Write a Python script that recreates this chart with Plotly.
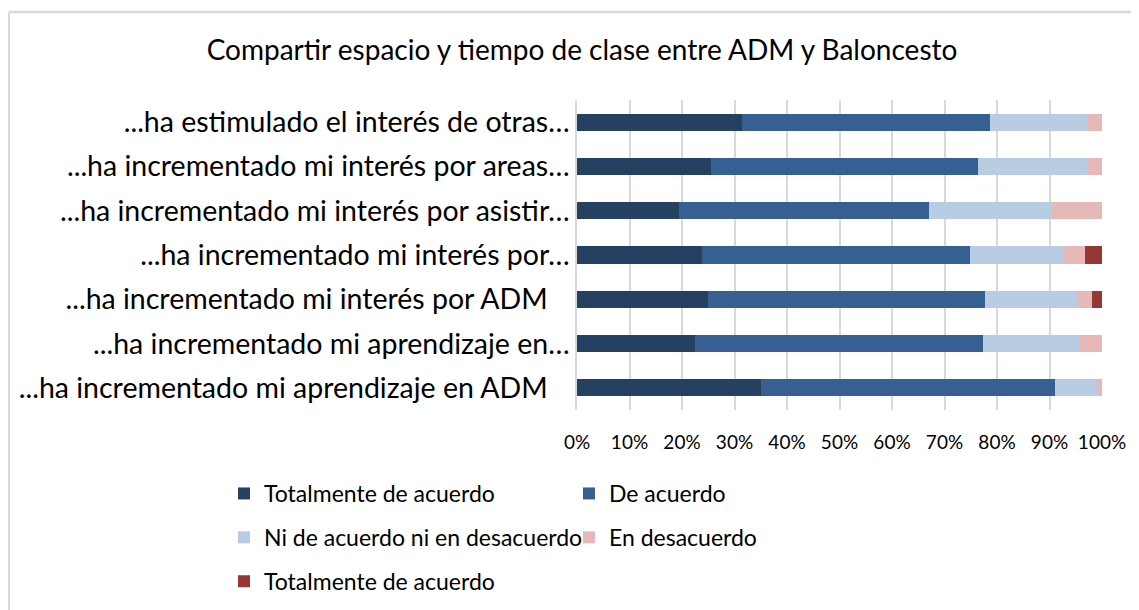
import plotly.graph_objects as go

categories = [
    "...ha estimulado el interés de otras…",
    "...ha incrementado mi interés por areas…",
    "...ha incrementado mi interés por asistir…",
    "...ha incrementado mi interés por…",
    "...ha incrementado mi interés por ADM\u00a0\u00a0\u00a0",
    "...ha incrementado mi aprendizaje en…",
    "...ha incrementado mi aprendizaje en ADM\u00a0\u00a0\u00a0",
]

series_names = [
    "Totalmente de acuerdo",
    "De acuerdo",
    "Ni de acuerdo ni en desacuerdo",
    "En desacuerdo",
    "Totalmente de acuerdo",
]

totalmente_acuerdo = [31.4, 25.5, 19.5, 23.8, 25.0, 22.5, 35.1]
de_acuerdo = [47.3, 50.9, 47.5, 51.1, 52.7, 54.8, 56.0]
ni_ni = [18.5, 20.8, 23.4, 17.6, 17.6, 18.4, 8.0]
en_desacuerdo = [2.8, 2.8, 9.6, 4.2, 2.8, 4.3, 0.9]
totalmente_desacuerdo = [0.0, 0.0, 0.0, 3.3, 1.9, 0.0, 0.0]

x_ticks = [0, 10, 20, 30, 40, 50, 60, 70, 80, 90, 100]
x_tick_labels = ["0%", "10%", "20%", "30%", "40%", "50%", "60%", "70%", "80%", "90%", "100%"]

colors = ["#264061", "#366092", "#b8cce4", "#e6b8b7", "#953735"]
legends = ["legend", "legend2", "legend", "legend2", "legend"]

values = [totalmente_acuerdo, de_acuerdo, ni_ni, en_desacuerdo, totalmente_desacuerdo]

FONT = "Lato"
W, H = 1131, 602          # page has an 8px body margin
L, R, T, B = 569, 37, 92, 200
PW, PH = W - L - R, H - T - B

fig = go.Figure()
for i, (name, vals) in enumerate(zip(series_names, values)):
    fig.add_trace(go.Bar(
        y=categories, x=vals, name=name, orientation="h",
        marker=dict(color=colors[i], line=dict(width=0)),
        legend=legends[i], legendgroup=f"g{i}",
        hoverinfo="x+y",
    ))

legend_common = dict(
    orientation="v", xref="container", yref="container",
    xanchor="left", yanchor="top",
    traceorder="grouped", tracegroupgap=11, itemwidth=30,
    font=dict(size=23, family=FONT, color="#000000"),
    bgcolor="rgba(0,0,0,0)",
)

fig.update_layout(
    width=W, height=H,
    barmode="stack", bargap=0.61,
    paper_bgcolor="white", plot_bgcolor="white",
    margin=dict(l=L, r=R, t=T, b=B, autoexpand=False),
    font=dict(family=FONT, color="#000000"),
    title=dict(text="Compartir espacio y tiempo de clase entre ADM y Baloncesto",
               x=574 / W, xanchor="center", y=1 - 42 / H, yanchor="middle",
               font=dict(size=28, family=FONT, color="#000000")),
    xaxis=dict(range=[0, 100], tickvals=x_ticks, ticktext=x_tick_labels,
               showgrid=True, gridcolor="#d9d9d9", gridwidth=1.5,
               zeroline=False, showline=False, ticks="",
               ticklabelstandoff=19, automargin=False,
               tickfont=dict(size=19, family=FONT, color="#000000")),
    yaxis=dict(autorange="reversed", showgrid=False, zeroline=False,
               showline=True, linecolor="#d9d9d9", linewidth=1.5, ticks="",
               automargin=False,
               tickfont=dict(size=28.5, family=FONT, color="#000000")),
    legend=dict(x=216 / W, y=1 - 464 / H, **legend_common),
    legend2=dict(x=561 / W, y=1 - 464 / H, **legend_common),
    showlegend=True,
)

# chart frame (top and left edges visible in the reference)
fx0 = (0.75 - L) / PW
fy0 = (T + PH - 4) / PH
fig.add_shape(type="line", xref="paper", yref="paper",
              x0=fx0, x1=(W + 10 - L) / PW, y0=fy0, y1=fy0,
              line=dict(color="#d9d9d9", width=2.5), layer="below")
fig.add_shape(type="line", xref="paper", yref="paper",
              x0=fx0, x1=fx0, y0=fy0, y1=-(B + 10) / PH,
              line=dict(color="#d9d9d9", width=2.5), layer="below")

fig.write_html("out.html")
